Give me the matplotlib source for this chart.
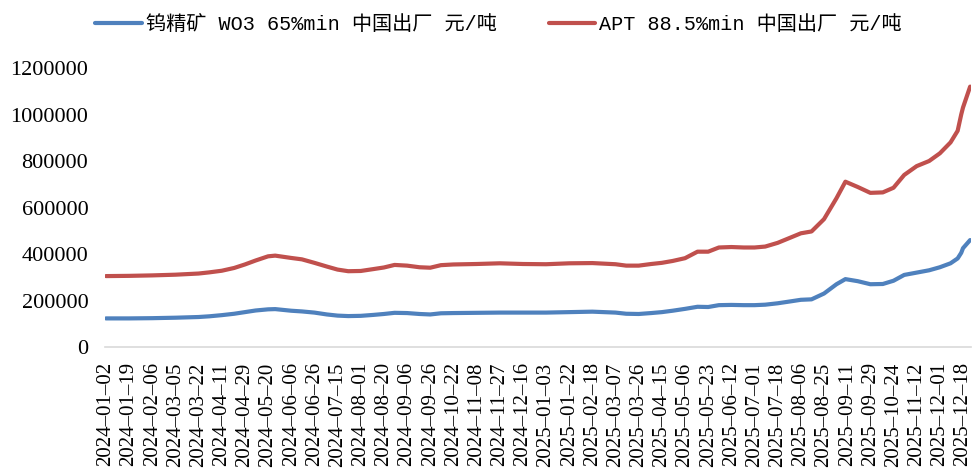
import matplotlib
matplotlib.use("Agg")
import matplotlib.pyplot as plt

# tick labels (one every 13 trading days)
tick_labels = [
    "2024-01-02", "2024-01-19", "2024-02-06", "2024-03-05", "2024-03-22",
    "2024-04-11", "2024-04-29", "2024-05-20", "2024-06-06", "2024-06-26",
    "2024-07-15", "2024-08-01", "2024-08-20", "2024-09-06", "2024-09-26",
    "2024-10-22", "2024-11-08", "2024-11-27", "2024-12-16", "2025-01-03",
    "2025-01-22", "2025-02-18", "2025-03-07", "2025-03-26", "2025-04-15",
    "2025-05-06", "2025-05-23", "2025-06-12", "2025-07-01", "2025-07-18",
    "2025-08-06", "2025-08-25", "2025-09-11", "2025-09-29", "2025-10-24",
    "2025-11-12", "2025-12-01", "2025-12-18",
]
tick_step = 13
n_days = 486

# sampled trading-day positions
sample_day = [0, 13, 26, 39, 52, 58, 65, 72, 78, 84, 91, 95, 104, 110, 117,
              124, 130, 136, 143, 150, 156, 162, 169, 176, 182, 188, 195, 208,
              221, 234, 247, 260, 273, 286, 292, 299, 306, 312, 318, 325, 332,
              338, 344, 351, 358, 364, 370, 377, 384, 390, 396, 403, 410, 415,
              422, 429, 436, 442, 448, 455, 462, 468, 474, 478, 480, 481, 485]

# 钨精矿 WO3 65%min (元/吨)
wo3 = [123, 123, 124, 126, 129, 132, 137, 143, 150, 157, 162, 163, 156, 153,
       148, 140, 135, 133, 134, 138, 142, 147, 146, 142, 140, 145, 146, 147,
       148, 148, 148, 150, 152, 148, 143, 142, 146, 150, 156, 164, 173, 172,
       180, 181, 180, 180, 182, 188, 196, 203, 205, 230, 270, 292, 283, 270,
       271, 285, 310, 320, 330, 343, 360, 381, 405, 425, 460]
wo3 = [v * 1000 for v in wo3]

# APT 88.5%min (元/吨)
apt = [305, 306, 308, 311, 316, 321, 328, 340, 355, 372, 390, 393, 383, 377,
       362, 346, 333, 326, 327, 335, 342, 353, 350, 343, 341, 352, 355, 357,
       360, 357, 356, 360, 361, 356, 350, 350, 357, 362, 370, 382, 410, 410,
       428, 430, 428, 428, 432, 448, 470, 489, 497, 550, 640, 711, 688, 663,
       665, 685, 740, 778, 800, 833, 880, 930, 1000, 1030, 1120]
apt = [v * 1000 for v in apt]

yticks = [0, 200000, 400000, 600000, 800000, 1000000, 1200000]

legend_font = ["Liberation Mono", "Noto Sans CJK SC"]
tick_font = "Liberation Serif"

fig = plt.figure(figsize=(9.76, 4.70), dpi=100)
ax = fig.add_axes([0.1076, 0.2617, 0.8873, 0.5936])

ax.plot(sample_day, wo3, color="#4F81BD", lw=3, solid_capstyle="round",
        label="钨精矿 WO3 65%min 中国出厂 元/吨")
ax.plot(sample_day, apt, color="#C0504D", lw=3, solid_capstyle="round",
        label="APT 88.5%min 中国出厂 元/吨")

ax.set_xlim(-0.5, n_days - 0.5)
ax.set_ylim(0, 1200000)

ax.set_yticks(yticks)
ax.set_yticklabels([str(v) for v in yticks], fontfamily=tick_font, fontsize=16)
ticks_x = [i * tick_step for i in range(len(tick_labels))]
ax.set_xticks(ticks_x)
ax.set_xticklabels([t.replace("-", "\u2013") for t in tick_labels],
                   rotation=90, fontfamily=tick_font, fontsize=15)
ax.tick_params(axis="both", length=0)
ax.tick_params(axis="y", pad=12)
ax.tick_params(axis="x", pad=11)

for s in ["top", "right", "left"]:
    ax.spines[s].set_visible(False)
ax.spines["bottom"].set_color("#d9d9d9")
ax.spines["bottom"].set_linewidth(1.2)

fig.legend(loc="center", bbox_to_anchor=(0.511, 0.947), ncol=2, frameon=False,
           prop={"family": legend_font, "size": 14.5}, handlelength=2.3,
           columnspacing=2.6, handletextpad=0.2)

fig.savefig("out.png", dpi=100)
